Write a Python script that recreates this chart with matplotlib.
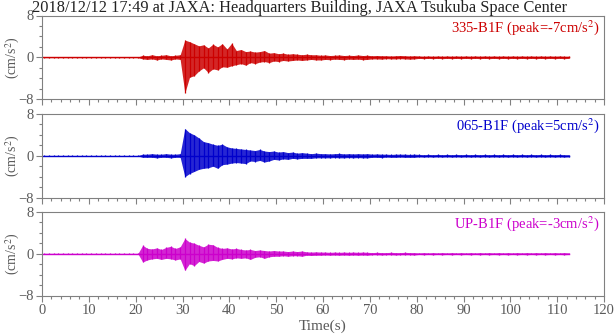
#!/usr/bin/env python3
"""Three-component acceleration records, JAXA HQ building B1F, 2018/12/12 17:49."""

import numpy as np
import matplotlib
matplotlib.use("Agg")
import matplotlib.pyplot as plt
from matplotlib.ticker import MultipleLocator

plt.rcParams["font.family"] = ["Liberation Serif", "DejaVu Serif"]
plt.rcParams["mathtext.fontset"] = "stix"

TITLE = "2018/12/12 17:49 at JAXA: Headquarters Building, JAXA Tsukuba Space Center"

# per-second envelope of the trace (max / min, cm/s^2), seconds 0..112
quiet_hi = [0.06] * 21
quiet_lo = [-0.06] * 21

ns_hi = quiet_hi + [0.4, 0.3, 0.5, 0.3, 0.4, 0.5, 0.3, 0.4, 0.5,
                    3.3, 3.0, 2.6, 2.2, 2.4, 1.8, 2.5, 2.0, 2.6, 1.6,
                    2.7, 1.3, 1.5, 1.1, 1.2, 1.0, 1.1, 1.3, 0.8, 0.9,
                    0.7, 0.8, 0.6, 0.7, 0.6, 0.5, 0.6, 0.5, 0.5, 0.4,
                    0.45, 0.35, 0.4, 0.45, 0.35, 0.4, 0.35, 0.45, 0.35, 0.4,
                    0.3, 0.35, 0.3, 0.3, 0.25, 0.3, 0.35, 0.3, 0.25, 0.3] + [0.25, 0.2] * 16 + [0.2]
ns_lo = quiet_lo + [-0.3, -0.4, -0.3, -0.5, -0.3, -0.4, -0.5, -0.3, -0.4,
                    -6.8, -3.8, -3.5, -2.6, -2.0, -2.9, -2.2, -2.4, -1.8, -1.9,
                    -1.6, -1.4, -1.2, -1.5, -1.0, -1.2, -0.9, -0.8, -1.0, -0.7,
                    -0.8, -0.6, -0.7, -0.6, -0.5, -0.6, -0.5, -0.4, -0.5, -0.5,
                    -0.4, -0.45, -0.35, -0.4, -0.45, -0.35, -0.4, -0.35, -0.45, -0.4,
                    -0.3, -0.3, -0.35, -0.25, -0.3, -0.3, -0.25, -0.3, -0.35, -0.3] + [-0.2, -0.25] * 16 + [-0.2]

ew_hi = quiet_hi + [0.3, 0.3, 0.4, 0.3, 0.3, 0.4, 0.3, 0.3, 0.4,
                    5.2, 4.4, 4.0, 3.4, 2.7, 2.5, 2.2, 2.0, 2.2, 1.7,
                    1.5, 1.4, 1.3, 1.2, 1.1, 1.0, 1.2, 0.9, 0.8, 0.9,
                    0.7, 0.8, 0.6, 0.7, 0.5, 0.6, 0.5, 0.4, 0.5, 0.4,
                    0.4, 0.35, 0.4, 0.45, 0.35, 0.4, 0.35, 0.4, 0.35, 0.4,
                    0.3, 0.35, 0.3, 0.3, 0.25, 0.3, 0.3, 0.3, 0.25, 0.3] + [0.25, 0.2] * 16 + [0.2]
ew_lo = quiet_lo + [-0.3, -0.3, -0.3, -0.4, -0.3, -0.3, -0.4, -0.3, -0.3,
                    -4.0, -3.4, -3.0, -2.6, -2.4, -2.3, -2.0, -2.4, -1.7, -1.6,
                    -1.4, -1.3, -1.4, -1.5, -1.0, -1.1, -0.9, -1.2, -1.0, -0.7,
                    -0.8, -0.6, -0.7, -0.5, -0.6, -0.5, -0.5, -0.5, -0.4, -0.4,
                    -0.4, -0.4, -0.35, -0.4, -0.4, -0.35, -0.4, -0.35, -0.4, -0.4,
                    -0.3, -0.3, -0.35, -0.25, -0.3, -0.3, -0.25, -0.3, -0.3, -0.3] + [-0.2, -0.25] * 16 + [-0.2]

ud_hi = quiet_hi + [1.6, 1.0, 0.9, 1.1, 0.8, 1.2, 1.4, 1.0, 1.3,
                    2.9, 2.2, 2.0, 1.6, 1.3, 1.8, 1.7, 1.2, 1.0, 1.1,
                    0.9, 1.0, 0.8, 0.7, 0.8, 0.6, 0.7, 0.6, 0.5, 0.6,
                    0.5, 0.5, 0.4, 0.5, 0.4, 0.5, 0.35, 0.3, 0.35, 0.3,
                    0.3, 0.25, 0.3, 0.25, 0.3, 0.25, 0.3, 0.25, 0.3, 0.25,
                    0.2, 0.25, 0.2, 0.2, 0.25, 0.2, 0.2, 0.25, 0.2, 0.2] + [0.15, 0.2] * 16 + [0.15]
ud_lo = quiet_lo + [-1.6, -1.2, -1.0, -0.9, -1.1, -0.9, -1.0, -1.2, -1.0,
                    -3.2, -1.9, -2.3, -1.5, -1.8, -1.4, -1.3, -1.4, -1.1, -0.9,
                    -1.0, -0.8, -0.9, -0.8, -1.1, -0.7, -0.6, -0.9, -0.6, -0.5,
                    -0.5, -0.4, -0.5, -0.4, -0.4, -0.5, -0.3, -0.35, -0.3, -0.3,
                    -0.25, -0.3, -0.25, -0.3, -0.25, -0.3, -0.25, -0.3, -0.25, -0.3,
                    -0.2, -0.2, -0.25, -0.2, -0.2, -0.25, -0.2, -0.2, -0.2, -0.25] + [-0.15, -0.2] * 16 + [-0.15]

channels = [
    ("335-B1F", -7, "#cc0000", ns_hi, ns_lo),
    ("065-B1F", 5, "#0000cc", ew_hi, ew_lo),
    ("UP-B1F", -3, "#cc00cc", ud_hi, ud_lo),
]

GRAY = "#808080"
TEXT_GRAY = "#5a5a5a"

fig = plt.figure(figsize=(6.16, 3.34), dpi=100)
left, width, height = 42 / 616, 562 / 616, 83.7 / 334
bottoms = [1 - 99.2 / 334, 1 - 197.6 / 334, 1 - 295.5 / 334]

for k, (name, peak, color, hi, lo) in enumerate(channels):
    ax = fig.add_axes([left, bottoms[k], width, height])
    sec = np.arange(len(hi)) + 0.5
    ax.fill_between(sec, lo, hi, color=color, alpha=0.85, lw=0)
    ax.vlines(sec, lo, hi, color=color, lw=0.9)
    ax.plot([0, sec[-1]], [0, 0], color=color, lw=1.0)
    ax.set_xlim(0, 120)
    ax.set_ylim(-8, 8)
    ax.set_yticks([-8, 0, 8])
    ax.yaxis.set_minor_locator(MultipleLocator(2))
    ax.xaxis.set_major_locator(MultipleLocator(10))
    ax.xaxis.set_minor_locator(MultipleLocator(2))
    ax.tick_params(which="major", direction="out", length=4, width=0.8,
                   color=GRAY, labelcolor=TEXT_GRAY, labelsize=10.5, pad=2)
    ax.tick_params(which="minor", direction="out", length=2, width=0.8, color=GRAY)
    for sp in ax.spines.values():
        sp.set_color(GRAY)
        sp.set_linewidth(0.8)
    if k < 2:
        ax.tick_params(axis="x", labelbottom=False)
    else:
        ax.set_xlabel("Time(s)", color=TEXT_GRAY, fontsize=11, labelpad=2)
    ax.set_ylabel(r"(cm/s$^2$)", color=TEXT_GRAY, fontsize=10)
    ax.yaxis.set_label_coords(-0.035, 0.5)
    ax.text(0.992, 0.97, f"{name} (peak={peak}cm/s$^2$)", transform=ax.transAxes,
            ha="right", va="top", color=color, fontsize=10.5)

fig.text(300 / 616, 1.0, TITLE, ha="center", va="top", fontsize=11.8, color="#222222")

fig.savefig("out.png", dpi=100)
